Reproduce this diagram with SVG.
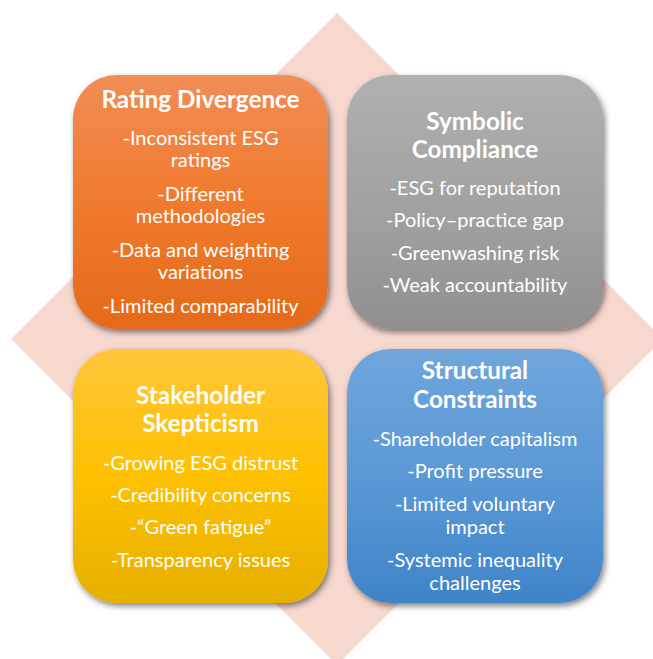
<svg xmlns="http://www.w3.org/2000/svg" width="653" height="659" viewBox="0 0 653 659">
  <defs>
    <linearGradient id="gOrange" x1="0" y1="0" x2="0" y2="1">
      <stop offset="0" stop-color="#F18D55"/>
      <stop offset="0.5" stop-color="#F07A2E"/>
      <stop offset="1" stop-color="#E56A1A"/>
    </linearGradient>
    <linearGradient id="gGray" x1="0" y1="0" x2="0" y2="1">
      <stop offset="0" stop-color="#B0B0B0"/>
      <stop offset="0.5" stop-color="#A2A2A2"/>
      <stop offset="1" stop-color="#909090"/>
    </linearGradient>
    <linearGradient id="gYellow" x1="0" y1="0" x2="0" y2="1">
      <stop offset="0" stop-color="#FFC63C"/>
      <stop offset="0.5" stop-color="#FEC000"/>
      <stop offset="1" stop-color="#E6B000"/>
    </linearGradient>
    <linearGradient id="gBlue" x1="0" y1="0" x2="0" y2="1">
      <stop offset="0" stop-color="#6FA6DC"/>
      <stop offset="0.5" stop-color="#5B98D6"/>
      <stop offset="1" stop-color="#3F84C8"/>
    </linearGradient>
    <filter id="shadow" x="-10%" y="-10%" width="125%" height="125%">
      <feDropShadow dx="2" dy="3" stdDeviation="3" flood-color="#000" flood-opacity="0.5"/>
    </filter>
  </defs>
  <style>
    .box { filter: url(#shadow); }
    text { font-family: Lato, "Noto Sans", "Liberation Sans", sans-serif; fill: #FFFFFF; text-anchor: middle; }
    .title { font-size: 24.3px; font-weight: 700; }
    .item { font-size: 20px; }
  </style>

  <!-- background diamond -->
  <polygon points="337,13 663,339 337,665 11,339" fill="#F7D8CF"/>

  <g id="connectors"/>

  <g id="rating-divergence">
    <rect class="box" x="73" y="75" width="255" height="254" rx="44" fill="url(#gOrange)"/>
    <text class="title" x="200.5" y="108">Rating Divergence</text>
    <text class="item" x="200.5" y="145">-Inconsistent ESG</text>
    <text class="item" x="200.5" y="167">ratings</text>
    <text class="item" x="200.5" y="201">-Different</text>
    <text class="item" x="200.5" y="223">methodologies</text>
    <text class="item" x="200.5" y="257">-Data and weighting</text>
    <text class="item" x="200.5" y="279">variations</text>
    <text class="item" x="200.5" y="313">-Limited comparability</text>
  </g>

  <g id="symbolic-compliance">
    <rect class="box" x="347" y="75" width="256" height="254" rx="44" fill="url(#gGray)"/>
    <text class="title" x="475" y="130">Symbolic</text>
    <text class="title" x="475" y="158">Compliance</text>
    <text class="item" x="475" y="195">-ESG for reputation</text>
    <text class="item" x="475" y="227">-Policy–practice gap</text>
    <text class="item" x="475" y="260">-Greenwashing risk</text>
    <text class="item" x="475" y="292">-Weak accountability</text>
  </g>

  <g id="stakeholder-skepticism">
    <rect class="box" x="73" y="349" width="255" height="254" rx="44" fill="url(#gYellow)"/>
    <text class="title" x="200.5" y="404">Stakeholder</text>
    <text class="title" x="200.5" y="432">Skepticism</text>
    <text class="item" x="200.5" y="470">-Growing ESG distrust</text>
    <text class="item" x="200.5" y="502">-Credibility concerns</text>
    <text class="item" x="200.5" y="534">-“Green fatigue”</text>
    <text class="item" x="200.5" y="567">-Transparency issues</text>
  </g>

  <g id="structural-constraints">
    <rect class="box" x="347" y="349" width="256" height="254" rx="44" fill="url(#gBlue)"/>
    <text class="title" x="475" y="379">Structural</text>
    <text class="title" x="475" y="408">Constraints</text>
    <text class="item" x="475" y="446">-Shareholder capitalism</text>
    <text class="item" x="475" y="478">-Profit pressure</text>
    <text class="item" x="475" y="511">-Limited voluntary</text>
    <text class="item" x="475" y="534">impact</text>
    <text class="item" x="475" y="567">-Systemic inequality</text>
    <text class="item" x="475" y="590">challenges</text>
  </g>
</svg>
